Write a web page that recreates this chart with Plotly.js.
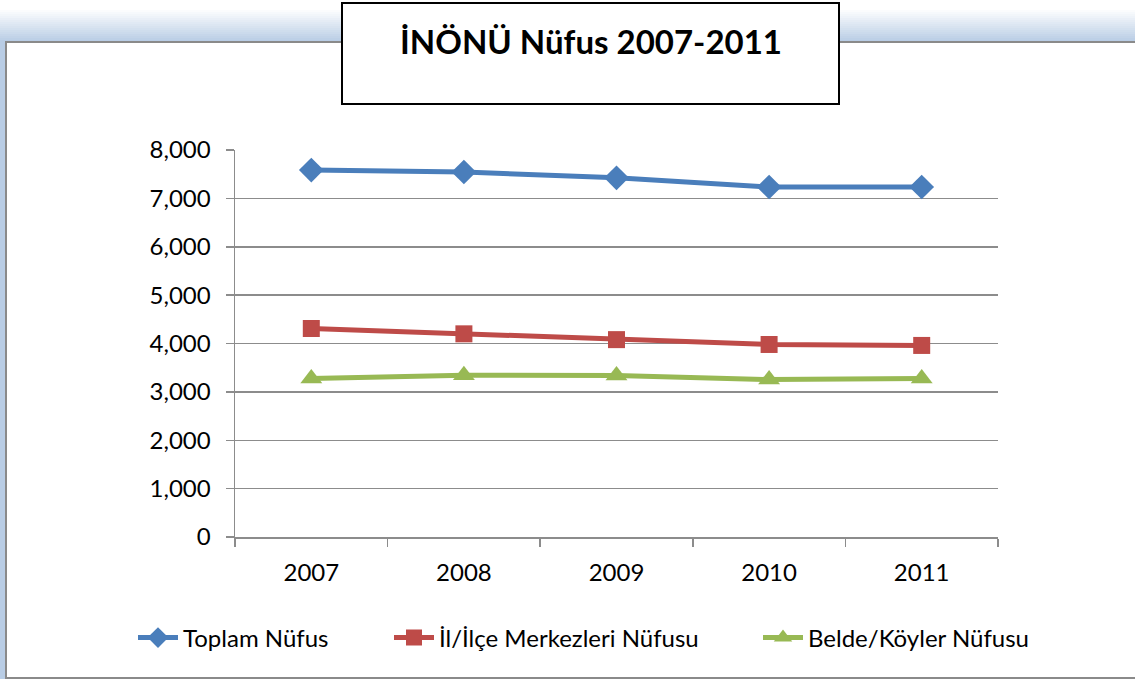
<!DOCTYPE html>
<html>
<head>
<meta charset="utf-8">
<script src="https://cdn.plot.ly/plotly-3.0.1.min.js"></script>
<style>html,body{margin:0;padding:0;background:#fff;}#chart{width:1135px;height:679px;}</style>
</head>
<body>
<div id="chart"></div>
<script>
const years = ["2007", "2008", "2009", "2010", "2011"];
const toplamNufus = [7585, 7545, 7425, 7235, 7235];
const merkezNufus = [4310, 4200, 4080, 3980, 3960];
const koyNufus = [3275, 3345, 3340, 3255, 3275];
const seriesNames = ["Toplam Nüfus", "İl/İlçe Merkezleri Nüfusu", "Belde/Köyler Nüfusu"];
const yTicks = [0, 1000, 2000, 3000, 4000, 5000, 6000, 7000, 8000];
const titleText = "İNÖNÜ Nüfus 2007-2011";

const W = 1135, H = 679;
const L = 235, R = 998, T = 150, B = 537;
const px = x => (x - L) / (R - L);
const py = y => (B - y) / (B - T);
const FONT = "Lato, 'Open Sans', sans-serif";

const shapes = [];
// gradient band at the top
const c0 = [255, 255, 255], c1 = [185, 205, 229];
const y0 = 8, y1 = 42, steps = 17;
for (let i = 0; i < steps; i++) {
  const t = i / (steps - 1);
  const c = c0.map((v, k) => Math.round(v + (c1[k] - v) * t));
  shapes.push({type: "rect", xref: "paper", yref: "paper", layer: "below",
    x0: px(0), x1: px(W), y0: py(y0 + i * (y1 - y0) / steps), y1: py(y0 + (i + 1) * (y1 - y0) / steps),
    line: {width: 0}, fillcolor: `rgb(${c[0]},${c[1]},${c[2]})`});
}
// left blue strip
shapes.push({type: "rect", xref: "paper", yref: "paper", layer: "below",
  x0: px(0), x1: px(5), y0: py(42), y1: py(H), line: {width: 0}, fillcolor: "rgb(185,205,229)"});
// gray frame lines
shapes.push({type: "line", xref: "paper", yref: "paper", x0: px(5), x1: px(W), y0: py(42), y1: py(42), line: {color: "#8a8a8a", width: 2}});
shapes.push({type: "line", xref: "paper", yref: "paper", x0: px(6), x1: px(6), y0: py(42), y1: py(H), line: {color: "#8a8a8a", width: 2}});
shapes.push({type: "line", xref: "paper", yref: "paper", x0: px(5), x1: px(W), y0: py(678), y1: py(678), line: {color: "#8a8a8a", width: 2}});
// title box
shapes.push({type: "rect", xref: "paper", yref: "paper", x0: px(342), x1: px(839), y0: py(3), y1: py(104),
  line: {color: "#000", width: 2}, fillcolor: "#fff"});

const mk = (name, vals, color, symbol, size, legend) => ({
  type: "scatter", mode: "lines+markers", name: name, x: years, y: vals,
  line: {color: color, width: 5}, marker: {symbol: symbol, size: size, color: color},
  legend: legend, cliponaxis: false
});

const data = [
  mk(seriesNames[0], toplamNufus, "#4a7ebb", "diamond", 19, "legend"),
  mk(seriesNames[1], merkezNufus, "#be4b48", "square", 17, "legend2"),
  mk(seriesNames[2], koyNufus, "#98b954", "triangle-up", 19, "legend3")
];

const legBase = {orientation: "h", yanchor: "middle", xanchor: "left", y: py(638),
  bgcolor: "rgba(0,0,0,0)", font: {family: FONT, size: 24, color: "#000"}, itemwidth: 40};

const layout = {
  width: W, height: H,
  margin: {l: L, r: W - R, t: T, b: H - B, pad: 0},
  paper_bgcolor: "rgba(0,0,0,0)", plot_bgcolor: "rgba(0,0,0,0)",
  showlegend: true,
  font: {family: FONT, color: "#000"},
  xaxis: {type: "category", range: [-0.5, 4.5], showgrid: false, showline: true, linecolor: "#8c8c8c", linewidth: 1.5,
    ticks: "outside", tickson: "boundaries", ticklen: 8, tickcolor: "#8c8c8c", tickwidth: 1.5, ticklabelstandoff: 14,
    tickfont: {family: FONT, size: 24, color: "#000"}, fixedrange: true, zeroline: false},
  yaxis: {range: [0, 8000], tickvals: yTicks, tickformat: ",d", showgrid: true, gridcolor: "#8c8c8c", gridwidth: 1.5,
    showline: true, linecolor: "#8c8c8c", linewidth: 1.5, ticks: "outside", ticklen: 8, tickcolor: "#8c8c8c", tickwidth: 1.5,
    ticklabelstandoff: 10,
    tickfont: {family: FONT, size: 24, color: "#000"}, zeroline: false, fixedrange: true},
  legend: Object.assign({}, legBase, {x: px(133)}),
  legend2: Object.assign({}, legBase, {x: px(389)}),
  legend3: Object.assign({}, legBase, {x: px(758)}),
  shapes: shapes,
  annotations: [{xref: "paper", yref: "paper", x: px(591), y: py(41), xanchor: "center", yanchor: "middle",
    text: "<b>" + titleText + "</b>", showarrow: false, font: {family: FONT, size: 33, color: "#000"}}]
};

Plotly.newPlot("chart", data, layout, {staticPlot: true});
</script>
</body>
</html>
